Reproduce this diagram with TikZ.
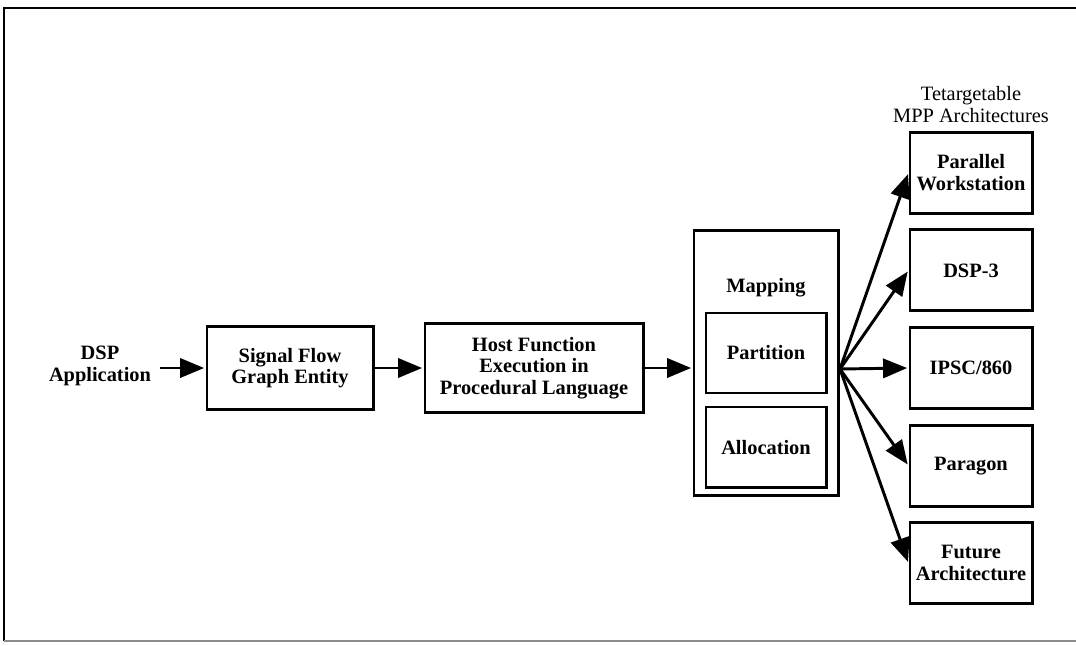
\documentclass[tikz,border=0pt]{standalone}
\usepackage{fontspec}
\setmainfont{Liberation Serif}
\usetikzlibrary{arrows.meta}

\begin{document}
\begin{tikzpicture}[x=0.025cm, y=-0.025cm, node distance=2.44cm, inner sep=0pt]
    \tikzstyle{blk}=[rectangle, draw=black, line width=2.1pt, align=center, font=\fontsize{14.5}{15.4}\selectfont\bfseries]
    \tikzstyle{lbl}=[align=center, font=\fontsize{14.5}{15.4}\selectfont\bfseries]
    \tikzstyle{tgt}=[blk, minimum width=3.05cm, minimum height=2.02cm]
    \tikzstyle{arr}=[-{Triangle[length=0.6cm,width=0.48cm]}, line width=2.1pt, shorten >=1pt]

    \useasboundingbox (0,0) rectangle (1076,645);

    % open frame round the flow
    \draw[line width=1.2pt] (1076,8) -- (4,8) -- (4,641);
    \draw[line width=1.2pt, black!45] (4,641) -- (1076,641);

    \node[lbl, inner xsep=6pt] (app) at (100,366) {DSP\\Application};
    \node[blk, minimum width=4.15cm, minimum height=2.075cm] (sfg) at (290,368) {Signal Flow\\Graph Entity};
    \node[blk, minimum width=5.45cm, minimum height=2.225cm] (host) at (534,368) {Host Function\\Execution in\\Procedural Language};

    % mapping stage
    \node[blk, minimum width=3.6cm, minimum height=6.6cm] (map) at (766,363) {};
    \node[lbl] (maplbl) at (766,288) {Mapping};
    \node[blk, minimum width=3cm, minimum height=2cm] (part) at (766,353) {Partition};
    \node[blk, minimum width=3cm, minimum height=2cm] (alloc) [below of=part, node distance=2.35cm] {Allocation};

    % target machines
    \node[tgt] (ipsc) at (971,368) {IPSC/860};
    \node[tgt] (dsp3) [above of=ipsc] {DSP-3};
    \node[tgt] (pw) [above of=dsp3] {Parallel\\Workstation};
    \node[tgt] (para) [below of=ipsc] {Paragon};
    \node[tgt] (fut) [below of=para] {Future\\Architecture};
    \node[lbl, font=\fontsize{14.5}{15.4}\selectfont] (hdr) [above of=pw, node distance=1.7cm] {Tetargetable\\MPP Architectures};

    \coordinate (fan) at (840,369);

    \draw[arr] (app.east |- sfg.west) -- (sfg.west);
    \draw[arr] (sfg) -- (host);
    \draw[arr] (host.east) -- (host.east -| map.west);
    \draw[arr] (fan) -- (pw.west);
    \draw[arr] (fan) -- (dsp3.west);
    \draw[arr] (fan) -- (ipsc.west);
    \draw[arr] (fan) -- (para.west);
    \draw[arr] (fan) -- (fut.west);
\end{tikzpicture}
\end{document}
